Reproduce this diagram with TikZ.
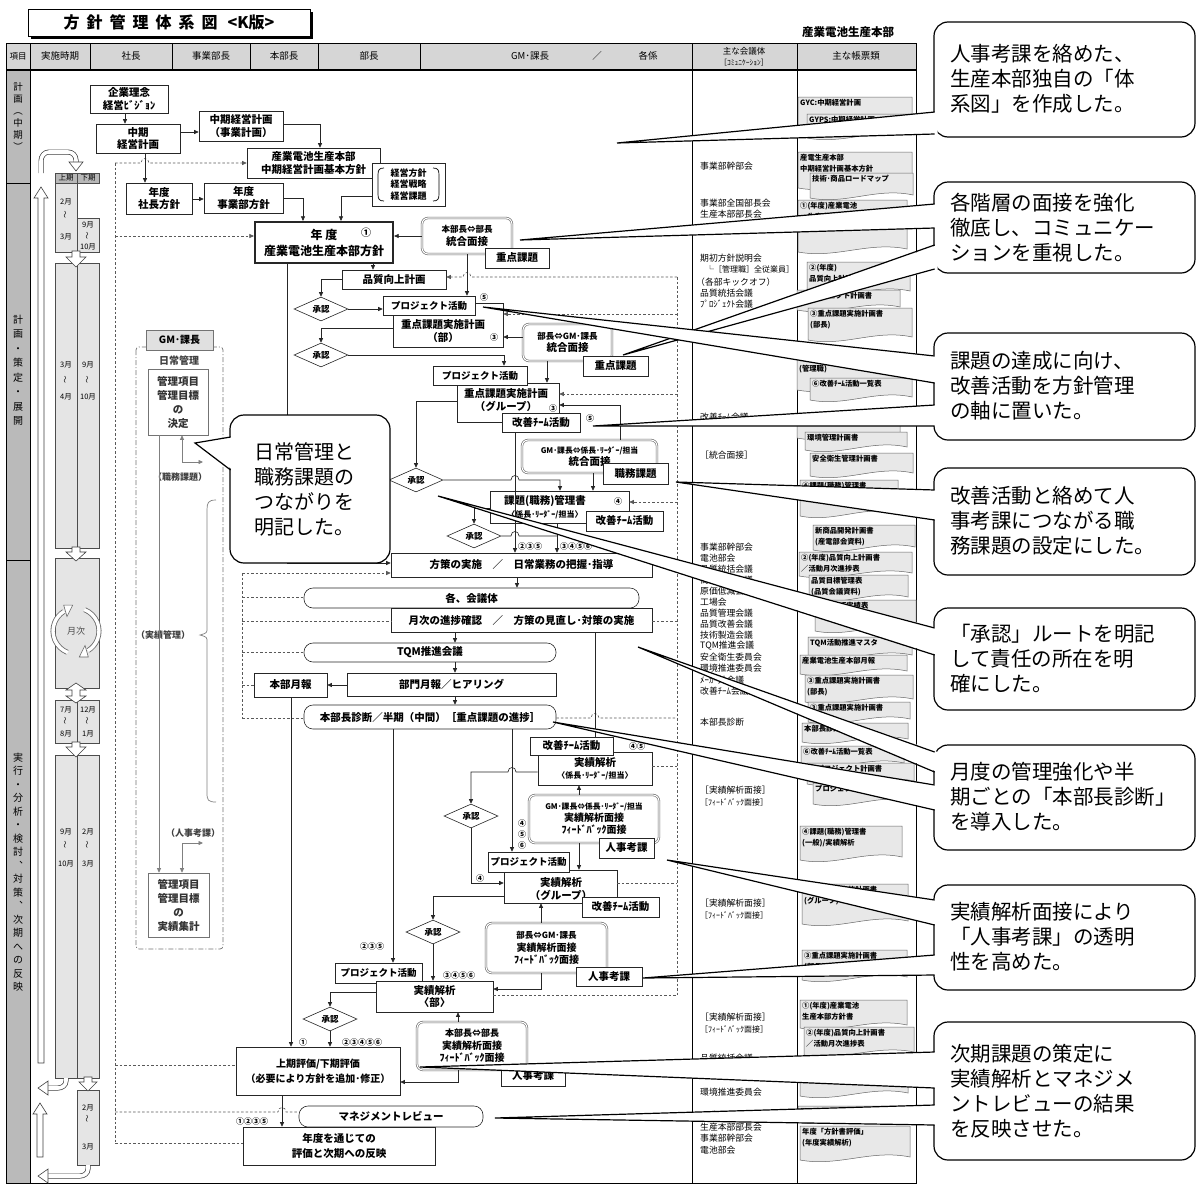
\documentclass[tikz,border=0pt]{standalone}
\usepackage{fontspec}
\setmainfont{Noto Sans CJK JP}
\usetikzlibrary{arrows.meta,shapes.geometric}
\newcommand\myfs[2]{\fontsize{#1}{#2}\selectfont}
\newcommand\zBX[7][]{\node[bx,#1,minimum width={(#5-#3)*1pt},minimum height={(#6-#4)*1pt}] (#2) at ({(#3+#5)/2},{(#4+#6)/2}) {#7};}
\newcommand\zDOC[5]{\filldraw[docsh] (#1,#2) -- (#3,#2) -- (#3,{#4-5}) .. controls ({#1+0.65*(#3-#1)},{#4-13}) and ({#1+0.35*(#3-#1)},{#4+5}) .. (#1,{#4-2}) -- cycle; \node[doctext,anchor=north west] at ({#1+2},{#2+2}) {#5};}
\newcommand\zMB[2]{\node[mtx] at (700,#1) {#2};}
\newcommand\zST[3]{\node[stx] at (#1,#2) {#3};}
\newcommand\zSW[2]{\node[stx,rotate=90] at (#1,#2) {～};}
\newcommand\zWG[4]{\fill[white] (#1,#2) -- (937.5,#3) -- (937.5,#4) -- cycle; \draw[wl] (934.6,#3) -- (#1,#2) -- (934.6,#4);}
\newcommand\zLB[3]{\node[lbl] at (#1,#2) {#3};}
\tikzset{
 bx/.style={draw=black!85,fill=white,line width=0.6pt,inner sep=1pt,align=center,font=\bfseries\myfs{10.5}{12.5}},
 rbx/.style={rounded corners=9pt},
 dbx/.style={draw=black!60,double=white,double distance=1.1pt,line width=0.6pt,rounded corners=6pt},
 pjx/.style={font=\bfseries\myfs{9.5}{11}},
 dia/.style={diamond,aspect=2,draw=black!85,fill=white,line width=0.6pt,inner sep=0pt,minimum width=54pt,minimum height=24pt,font=\bfseries\myfs{8.5}{9}},
 ln/.style={draw=black!85,line width=0.6pt},
 ar/.style={ln,-{Triangle[length=4.5pt,width=4pt]}},
 dsh/.style={draw=black!65,line width=0.6pt,dash pattern=on 2.5pt off 2pt},
 dar/.style={dsh,-{Triangle[length=4.5pt,width=4pt]}},
 gar/.style={draw=black!50,line width=0.7pt,-{Triangle[length=4.5pt,width=4pt]}},
 lbl/.style={inner sep=0pt,font=\bfseries\myfs{8}{9}},
 mtx/.style={anchor=west,inner sep=0pt,font=\myfs{8.8}{10}},
 stx/.style={inner sep=0pt,font=\myfs{7.5}{8}},
 docsh/.style={fill=black!9,draw=black!60,line width=0.5pt},
 doctext/.style={inner sep=0pt,align=left,font=\bfseries\myfs{7.3}{11}},
 cob/.style={draw=black,fill=white,line width=1.2pt,rounded corners=14pt},
 cot/.style={anchor=west,align=left,inner sep=0pt,font=\myfs{20.5}{25}},
 wl/.style={line width=1.2pt,line join=miter},
 hol/.style={draw=black!75,fill=white,line width=0.6pt},
 cel/.style={fill=black!10,draw=black!70,line width=0.5pt},
 hcel/.style={fill=black!28,draw=black!70,line width=0.5pt},
 hdr/.style={inner sep=0pt,font=\myfs{9.5}{11}},
}
\begin{document}
\begin{tikzpicture}[x=1pt,y=-1pt]
\useasboundingbox (0,0) rectangle (1198,1183);
\fill[white] (0,0) rectangle (1198,1183);
% ---------- title ----------
\fill[black] (31,12) rectangle (313,39);
\node[draw,fill=white,line width=0.8pt,minimum width=282pt,minimum height=27pt,inner sep=0pt,font=\bfseries\myfs{16}{18}] (title) at (169,22.5) {方\hspace{7pt}針\hspace{7pt}管\hspace{7pt}理\hspace{7pt}体\hspace{7pt}系\hspace{7pt}図\hspace{10pt}<K版>};
\node[font=\bfseries\myfs{11.5}{13},inner sep=0pt] (dept) at (848,32) {産業電池生産本部};
% ---------- table ----------
\fill[black!16] (6,43) rectangle (916,70);
\fill[black!27] (6,70) rectangle (30,1183);
\draw[line width=0.8pt] (6,43) rectangle (916,1183);
\draw[line width=1.2pt] (6,70) -- (916,70);
\foreach \xx in {30,90,172,250,318,420,692,797} \draw[line width=0.6pt] (\xx,43) -- (\xx,70);
\foreach \xx in {30,692,797} \draw[line width=0.6pt] (\xx,70) -- (\xx,1183);
\draw[line width=0.6pt] (6,183) -- (30,183);
\draw[line width=0.6pt] (6,560) -- (30,560);
\node[hdr,font=\myfs{8.5}{10}] (h0) at (18,56) {項目};
\node[hdr] (h1) at (60,56) {実施時期};
\node[hdr] (h2) at (131,56) {社長};
\node[hdr] (h3) at (211,56) {事業部長};
\node[hdr] (h4) at (284,56) {本部長};
\node[hdr] (h5) at (369,56) {部長};
\node[hdr] (h6) at (530,56) {GM･課長};
\node[hdr] (h7) at (597,56) {／};
\node[hdr] (h8) at (648,56) {各係};
\node[hdr,font=\myfs{8.5}{10}] (h9) at (744,51) {主な会議体};
\node[hdr,font=\myfs{7.5}{9}] (h10) at (744,63) {［ｺﾐｭﾆｹｰｼｮﾝ］};
\node[hdr] (h11) at (856,56) {主な帳票類};
\node[align=center,inner sep=0pt,font=\myfs{9.5}{12}] (v1) at (18,117) {計\\画\\︵\\中\\期\\︶};
\node[align=center,inner sep=0pt,font=\myfs{10}{14.5}] (v2) at (18,370) {計\\画\\・\\策\\定\\・\\展\\開};
\node[align=center,inner sep=0pt,font=\myfs{10}{13.5}] (v3) at (18,872) {実\\行\\・\\分\\析\\・\\検\\討\\︑\\対\\策\\︑\\次\\期\\へ\\の\\反\\映};
% ---------- period sub-table ----------
\filldraw[hcel] (55,173) rectangle (77,183);
\filldraw[hcel] (77,173) rectangle (99,183);
\zST{66}{178}{上期}\zST{88}{178}{下期}
\filldraw[cel] (55,183) rectangle (77,252);
\filldraw[cel] (77,218) rectangle (99,252);
\zST{66}{202}{2月}\zSW{66}{215}\zST{66}{237}{3月}
\zST{88}{225}{9月}\zSW{88}{236}\zST{88}{247}{10月}
\filldraw[cel] (55,263) rectangle (99,548);
\draw[black!70,line width=0.5pt] (77,263) -- (77,548);
\zST{66}{365}{3月}\zSW{66}{380}\zST{66}{397}{4月}
\zST{88}{365}{9月}\zSW{88}{380}\zST{88}{397}{10月}
\filldraw[hol] (72,251) -- (80,251) -- (80,257) -- (86,257) -- (76,267) -- (66,257) -- (72,257) -- cycle;
\filldraw[cel] (55,558) rectangle (99,688);
\filldraw[hol] (72,547) -- (80,547) -- (80,552) -- (86,552) -- (76,561) -- (66,552) -- (72,552) -- cycle;
\node[inner sep=0pt,font=\myfs{9}{10},text=black!70] (mj) at (76,631) {月次};
\draw[line width=5pt,black!60] (76,631) ++(248:23pt) arc[start angle=248,end angle=122,radius=23pt];
\draw[line width=3.4pt,white] (76,631) ++(249:23pt) arc[start angle=249,end angle=121,radius=23pt];
\filldraw[draw=black!60,fill=white,line width=0.6pt] (76,631) ++(122:17pt) -- ++(106:12pt) -- ++(0:9pt) -- cycle;
\draw[line width=5pt,black!60] (76,631) ++(68:23pt) arc[start angle=68,end angle=-58,radius=23pt];
\draw[line width=3.4pt,white] (76,631) ++(69:23pt) arc[start angle=69,end angle=-59,radius=23pt];
\filldraw[draw=black!60,fill=white,line width=0.6pt] (76,631) ++(-58:17pt) -- ++(-74:12pt) -- ++(180:9pt) -- cycle;
\filldraw[cel] (55,700) rectangle (99,743);
\draw[black!70,line width=0.5pt] (77,700) -- (77,743);
\filldraw[hol] (76,683) -- (86,690) -- (80,690) -- (80,696) -- (86,696) -- (76,703) -- (66,696) -- (72,696) -- (72,690) -- (66,690) -- cycle;
\zST{66}{710}{7月}\zSW{66}{721}\zST{66}{734}{8月}
\zST{88}{710}{12月}\zSW{88}{721}\zST{88}{734}{1月}
\filldraw[cel] (55,755) rectangle (99,1078);
\draw[black!70,line width=0.5pt] (77,755) -- (77,1078);
\filldraw[hol] (72,742) -- (80,742) -- (80,747) -- (86,747) -- (76,757) -- (66,747) -- (72,747) -- cycle;
\zST{66}{832}{9月}\zSW{66}{845}\zST{66}{864}{10月}
\zST{88}{832}{2月}\zSW{88}{845}\zST{88}{864}{3月}
\filldraw[cel] (77,1090) rectangle (99,1165);
\filldraw[hol] (84,1077) -- (92,1077) -- (92,1082) -- (97,1082) -- (88,1091) -- (79,1082) -- (84,1082) -- cycle;
\zST{88}{1108}{2月}\zSW{88}{1119}\zST{88}{1147}{3月}
% hollow hooks and long arrows
\draw[line width=5pt,black!75] (41,173) -- (41,161) to[out=90,in=180] (49,152) -- (68,152) to[out=0,in=90] (76,160) -- (76,163);
\draw[line width=3.6pt,white] (41,174) -- (41,161) to[out=90,in=180] (49,152) -- (68,152) to[out=0,in=90] (76,160) -- (76,164);
\filldraw[hol] (69,162) -- (83,162) -- (76,171) -- cycle;
\filldraw[hol] (38,1063) -- (44,1063) -- (44,198) -- (48,198) -- (41,187) -- (34,198) -- (38,198) -- cycle;
\draw[line width=5pt,black!75] (66,1079) -- (66,1081) to[out=-90,in=0] (58,1088) -- (48,1088);
\draw[line width=3.6pt,white] (66,1078) -- (66,1081) to[out=-90,in=0] (58,1088) -- (47,1088);
\filldraw[hol] (48,1081) -- (48,1095) -- (38,1088) -- cycle;
\draw[line width=5pt,black!75] (88,1166) -- (88,1169) to[out=-90,in=0] (80,1176) -- (48,1176);
\draw[line width=3.6pt,white] (88,1165) -- (88,1169) to[out=-90,in=0] (80,1176) -- (47,1176);
\filldraw[hol] (48,1169) -- (48,1183) -- (38,1176) -- cycle;
\filldraw[hol] (37,1157) -- (43,1157) -- (43,1114) -- (47,1114) -- (40,1103) -- (33,1114) -- (37,1114) -- cycle;
% ---------- GM group ----------
\draw[black!55,line width=0.7pt,dash pattern=on 5pt off 2pt on 1pt off 2pt,rounded corners=3pt] (136,347) rectangle (223,949);
\zBX[fill=black!12,draw=black!55,font=\bfseries\myfs{10}{12}]{gmk}{146}{330}{213}{350}{GM･課長}
\node[inner sep=0pt,font=\bfseries\myfs{10}{12},text=black!75] (nj) at (179,361) {日常管理};
\zBX[draw=black!55,text=black!80,font=\bfseries\myfs{10.5}{14}]{kd}{148}{369}{208}{435}{管理項目\\管理目標\\の\\決定}
\zBX[draw=black!55,text=black!80,font=\bfseries\myfs{10.5}{14}]{jsk}{148}{873}{209}{937}{管理項目\\管理目標\\の\\実績集計}
\node[inner sep=0pt,font=\bfseries\myfs{9}{10},text=black!75] (smk) at (180,477) {（職務課題）};
\node[inner sep=0pt,font=\bfseries\myfs{9}{10},text=black!75] (jkk) at (163,635) {（実績管理）};
\node[inner sep=0pt,font=\bfseries\myfs{9}{10},text=black!75] (jjk) at (193,833) {（人事考課）};
\draw[gar] (kd.south -| 159,0) -- (jsk.north -| 159,0);
\draw[gar,{Triangle[length=4.5pt,width=4pt]}-{Triangle[length=4.5pt,width=4pt]}] (kd.south -| 182,0) |- (203,462);
\draw[gar,{Triangle[length=4.5pt,width=4pt]}-{Triangle[length=4.5pt,width=4pt]}] (jsk.north -| 182,0) |- (203,843);
\draw[black!50,line width=0.7pt] (216,500) .. controls (208,500) and (207,503) .. (207,510) -- (207,628) .. controls (207,633) .. (200,635) .. controls (207,637) .. (207,642) -- (207,793) .. controls (207,800) and (208,802) .. (216,802);
% ---------- flow nodes ----------
\zBX{kr}{90}{85}{168}{113}{企業理念\\経営ﾋﾞｼﾞｮﾝ}
\zBX{ck}{96}{124}{180}{153}{中期\\経営計画}
\zBX{jg}{199}{111}{283}{141}{中期経営計画\\（事業計画）}
\zBX{sk}{247}{148}{380}{178}{産業電池生産本部\\中期経営計画基本方針}
\zBX[font=\bfseries\myfs{9}{11.5}]{kh}{372}{163}{445}{206}{経営方針\\経営戦略\\経営課題}
\draw[line width=0.7pt] (384,168) .. controls (379,168) and (378,170) .. (378,175) -- (378,194) .. controls (378,199) and (379,201) .. (384,201);
\draw[line width=0.7pt] (433,168) .. controls (438,168) and (439,170) .. (439,175) -- (439,194) .. controls (439,199) and (438,201) .. (433,201);
\zBX{ss}{126}{183}{192}{214}{年度\\社長方針}
\zBX{jb}{204}{183}{283}{213}{年度\\事業部方針}
\zBX[line width=2.2pt,font=\bfseries\myfs{12}{16}]{nd}{255}{222}{393}{263}{年 度\\産業電池生産本部方針}
\node[inner sep=0pt,font=\bfseries\myfs{10}{10}] (n1) at (366,233) {①};
\zBX[dbx]{hb}{422}{218}{512}{254}{{\myfs{8.5}{10}本部長⇔部長}\\統合面接}
\zBX{jk1}{485}{248}{549}{268}{重点課題}
\zBX{hq}{342}{270}{446}{289}{品質向上計画}
\node[dia] (a1) at (321,309) {承認};
\zBX{jbb}{393}{303}{503}{347}{}
\node[bx,draw=none,fill=none] (jbbt) at (443,331) {重点課題実施計画\\（部）};
\zBX[pjx]{pj1}{383}{296}{475}{315}{プロジェクト活動}
\zLB{484}{297}{⑤}
\zLB{494}{337}{③}
\zBX[dbx]{bg}{523}{324}{612}{361}{{\myfs{8.5}{10}部長⇔GM･課長}\\統合面接}
\zBX{jk2}{583}{356}{648}{376}{重点課題}
\node[dia] (a2) at (321,355) {承認};
\zBX{jgr}{457}{383}{559}{422}{}
\node[bx,draw=none,fill=none] (jgrt) at (506,400) {重点課題実施計画\\（グループ）};
\zBX[pjx]{pj2}{433}{366}{527}{385}{プロジェクト活動}
\zLB{553}{408}{③}
\zBX{kt1}{502}{413}{580}{432}{改善ﾁｰﾑ活動}
\zLB{590}{418}{⑤}
\zBX[dbx]{gk}{522}{440}{657}{473}{{\myfs{7.8}{9.5}GM･課長⇔係長･ﾘｰﾀﾞｰ/担当}\\統合面接}
\zBX{sm}{603}{463}{668}{484}{職務課題}
\node[dia] (a3) at (416,480) {承認};
\zBX{kk}{490}{491}{629}{523}{}
\node[bx,draw=none,fill=none] (kkt) at (545,507) {課題(職務)管理書\\{\myfs{8}{10}〈係長･ﾘｰﾀﾞｰ/担当〉}};
\zLB{618}{501}{④}
\zBX{kt2}{586}{511}{663}{531}{改善ﾁｰﾑ活動}
\node[dia] (a4) at (474,536) {承認};
\zBX{hs}{391}{553}{652}{577}{方策の実施　／　日常業務の把握･指導}
\zLB{530}{546}{②③⑤}
\zLB{576}{546}{③④⑤⑥}
\zBX[rbx]{kg}{304}{588}{639}{608}{各、会議体}
\zBX{gs}{391}{608}{652}{632}{月次の進捗確認　／　方策の見直し･対策の実施}
\zBX[rbx]{tqm}{304}{643}{556}{662}{TQM推進会議}
\zBX{bm}{347}{673}{556}{696}{部門月報／ヒアリング}
\zBX{hg}{254}{673}{327}{697}{本部月報}
\zBX[rbx]{hd}{304}{705}{556}{729}{本部長診断／半期（中間）［重点課題の進捗］}
\zBX{jk}{538}{752}{652}{785}{実績解析\\{\myfs{8}{10}〈係長･ﾘｰﾀﾞｰ/担当〉}}
\zBX{kt3}{530}{737}{613}{755}{改善ﾁｰﾑ活動}
\zLB{637}{746}{④⑤}
\node[dia] (a5) at (471,816) {承認};
\zBX[dbx,font=\bfseries\myfs{10}{12}]{gj}{529}{795}{659}{843}{{\myfs{7.8}{9.5}GM･課長⇔係長･ﾘｰﾀﾞｰ/担当}\\実績解析面接\\ﾌｨｰﾄﾞﾊﾞｯｸ面接}
\zLB{522}{823}{④}\zLB{522}{834}{⑤}\zLB{522}{845}{⑥}
\zBX{jj1}{599}{838}{654}{858}{人事考課}
\zBX{jgp}{504}{870}{617}{903}{}
\node[bx,draw=none,fill=none] (jgpt) at (561,889) {実績解析\\（グループ）};
\zBX[pjx]{pj3}{488}{852}{569}{872}{プロジェクト活動}
\zBX{kt4}{582}{897}{659}{917}{改善ﾁｰﾑ活動}
\zLB{480}{878}{④}
\node[dia] (a6) at (433,932) {承認};
\zBX[dbx,font=\bfseries\myfs{10}{12.5}]{bgj}{486}{923}{607}{973}{{\myfs{8.5}{10}部長⇔GM･課長}\\実績解析面接\\ﾌｨｰﾄﾞﾊﾞｯｸ面接}
\zBX{jj2}{576}{967}{642}{986}{人事考課}
\zBX[pjx]{pj4}{335}{963}{422}{983}{プロジェクト活動}
\zLB{372}{946}{②③⑤}
\zBX{jb2}{376}{981}{493}{1012}{実績解析\\〈部〉}
\zLB{459}{975}{③④⑤⑥}
\node[dia] (a7) at (330,1019) {承認};
\zBX[dbx,font=\bfseries\myfs{10}{12.5}]{hbj}{417}{1022}{527}{1070}{{\myfs{9}{10}本部長⇔部長}\\実績解析面接\\ﾌｨｰﾄﾞﾊﾞｯｸ面接}
\zBX{jj3}{501}{1066}{565}{1086}{人事考課}
\zBX[font=\bfseries\myfs{10}{15}]{jh}{236}{1047}{400}{1095}{上期評価/下期評価\\（必要により方針を追加･修正）}
\zLB{303}{1042}{①}
\zLB{362}{1042}{②③④⑤⑥}
\zBX[rbx]{mr}{299}{1106}{483}{1127}{マネジメントレビュー}
\zBX[font=\bfseries\myfs{10.5}{15}]{nt}{243}{1127}{435}{1165}{年度を通じての\\評価と次期への反映}
\zLB{252}{1121}{①②③⑤}
% ---------- dashed connectors ----------
\draw[dar] (115,163) -- (141,163) .. controls (141,157) and (149,157) .. (149,163) -- (sk.west);
\draw[dsh] (115,163) -- (115,1143);
\draw[dar] (115,236) -- (nd.west |- 0,236);
\draw[dsh] (115,1065) -- (jh.west |- 0,1065);
\draw[dsh] (115,1112) -- (278,1112) .. controls (278,1106) and (286,1106) .. (286,1112) -- (mr.west |- 0,1112);
\draw[dsh] (115,1143) -- (nt.west |- 0,1143);
\draw[dsh] (677,277) -- (677,995);
\draw[dar] (677,277) -- (471,277) .. controls (471,271) and (463,271) .. (463,277) -- (hq.east |- 0,277);
\draw[dar] (677,314) -- (jbb.east |- 0,314);
\draw[dar] (677,394) -- (jgr.east |- 0,394);
\draw[dar] (677,502) -- (kk.east |- 0,502);
\draw[dsh] (gs.east |- 0,621) -- (677,621);
\draw[dsh] (hd.east |- 0,718) -- (591,718) .. controls (591,712) and (599,712) .. (599,718) -- (677,718);
\draw[dsh] (jk.east |- 0,766) -- (677,766);
\draw[dsh] (jgp.east |- 0,883) -- (677,883);
\draw[dsh] (jb2.east |- 0,995) -- (677,995);
\draw[dsh] (242,573) -- (242,718);
\draw[dar] (242,573) -- (hs.west |- 0,573);
\draw[dsh] (242,597) -- (kg.west |- 0,597);
\draw[dsh] (242,621) -- (gs.west |- 0,621);
\draw[dsh] (242,652) -- (tqm.west |- 0,652);
\draw[dsh] (242,685) -- (hg.west |- 0,685);
\draw[dsh] (242,718) -- (hd.west |- 0,718);
% ---------- solid connectors ----------
\draw[ar] (kr.south -| 125,0) -- (ck.north -| 125,0);
\draw[ar] (ck.east |- 0,132) -- (jg.west |- 0,132);
\draw[ar] (jg.east |- 0,124) -| (sk.north -| 320,0);
\draw[ar] (ck.south -| 145,0) -- (ss.north -| 145,0);
\draw[ar] (ss.east |- 0,199) -- (jb.west |- 0,199);
\draw[ar] (jb.east |- 0,198) -| (nd.north -| 303,0);
\draw[ar] (kh.west |- 0,196) -| (nd.north -| 341,0);
\draw[ar] (hb.west |- 0,236) -- (nd.east |- 0,236);
\draw[ar] (nd.south -| 373,0) -- (hq.north -| 373,0);
\draw[ar] (nd.south -| 287,0) |- (hs.west |- 0,563);
\draw[ar] (hq.west |- 0,279) -| (a1.north);
\draw[ar] (a1.east) -- (pj1.west |- a1.east);
\draw[ar] (hb.south -| 467,0) -- (pj1.north -| 467,0);
\draw[ar] (bg.west |- 0,337) -- (jbb.east |- 0,337);
\draw[ar] (jbb.west |- 0,328) -| (a2.north);
\draw[ar] (a2.east) -| (pj2.north -| 504,0);
\draw[ar] (bg.south -| 547,0) -- (jgr.north -| 547,0);
\draw[ar] (gk.north -| 620,0) |- (jgr.east |- 0,405);
\draw[ar] (jgr.west |- 0,401) -| (a3.north);
\draw[ar] (a3.east) -- (511,480) .. controls (511,474) and (519,474) .. (519,480) -| (kk.north -| 560,0);
\draw[ar] (kt1.south -| 515,0) -- (hs.north -| 515,0);
\draw[ar] (gk.south -| 593,0) -- (kk.north -| 593,0);
\draw[ar] (kk.west |- 0,508) -| (a4.north);
\draw[ln] (a4.east) -- (511,536) .. controls (511,530) and (519,530) .. (519,536) -- (557,536);
\draw[ar] (kk.south -| 557,0) -- (hs.north -| 557,0);
\draw[ar] (hs.south -| 517,0) -- (kg.north -| 517,0);
\draw[ar] (gs.south -| 455,0) -- (tqm.north -| 455,0);
\draw[ln] (gs.south -| 595,0) -- (kt3.north -| 595,0);
\draw[ar] (tqm.south -| 455,0) -- (bm.north -| 455,0);
\draw[ar] (bm.west |- 0,685) -- (hg.east |- 0,685);
\draw[ar] (bm.south -| 455,0) -- (hd.north -| 455,0);
\draw[ar] (hg.south -| 291,0) -- (jh.north -| 291,0);
\draw[ar] (hd.south -| 393,0) -- (pj4.north -| 393,0);
\draw[ar] (hd.south -| 512,0) -- (pj3.north -| 512,0);
\draw[ar] (jk.west |- 0,772) -- (516,772) .. controls (516,766) and (508,766) .. (508,772) -| (a5.north);
\draw[ar] (gj.north -| 579,0) -- (jk.south -| 579,0);
\draw[ar] (a5.south) |- (jgp.west |- 0,883);
\draw[ar] (gj.south -| 579,0) -- (jgp.north -| 579,0);
\draw[ar] (jgp.west |- 0,896) -| (a6.north);
\draw[ar] (a6.south) -- (jb2.north -| a6.south);
\draw[ar] (bgj.north -| 541,0) -- (jgp.south -| 541,0);
\draw[ar] (bgj.south -| 541,0) |- (jb2.east |- 0,989);
\draw[ar] (jb2.west |- 0,992) -| (a7.north);
\draw[ar] (a7.south) -- (jh.north -| a7.south);
\draw[ar] (hbj.north -| 458,0) -- (jb2.south -| 458,0);
\draw[ar] (hbj.south -| 458,0) |- (jh.east |- 0,1082);
\draw[ar] (jh.south -| 282,0) -- (nt.north -| 282,0);
% ---------- meeting bodies ----------
\zMB{166}{事業部幹部会}
\zMB{203}{事業部全国部長会}
\zMB{214}{生産本部部長会}
\zMB{258}{期初方針説明会}
\node[mtx,font=\myfs{8}{9}] at (706,269) {└［管理職］全従業員］};
\node[mtx] at (696,282) {（各部キックオフ）};
\zMB{293}{品質統括会議}
\zMB{304}{ﾌﾟﾛｼﾞｪｸﾄ会議}
\zMB{417}{改善ﾁｰﾑ会議}
\zMB{455}{［統合面接］}
\zMB{547}{事業部幹部会}
\zMB{558}{電池部会}
\zMB{569}{品質統括会議}
\zMB{580}{商品企画会議}
\zMB{591}{原価低減会議}
\zMB{602}{工場会}
\zMB{613}{品質管理会議}
\zMB{624}{品質改善会議}
\zMB{635}{技術製造会議}
\zMB{646}{TQM推進会議}
\zMB{657}{安全衛生委員会}
\zMB{668}{環境推進委員会}
\zMB{680}{ﾒｰｶｰ外会議}
\zMB{691}{改善ﾁｰﾑ会議}
\zMB{722}{本部長診断}
\zMB{790}{［実績解析面接］}
\node[mtx,font=\myfs{8}{9}] at (700,802) {［ﾌｨｰﾄﾞﾊﾞｯｸ面接］};
\zMB{903}{［実績解析面接］}
\node[mtx,font=\myfs{8}{9}] at (700,915) {［ﾌｨｰﾄﾞﾊﾞｯｸ面接］};
\zMB{1017}{［実績解析面接］}
\node[mtx,font=\myfs{8}{9}] at (700,1029) {［ﾌｨｰﾄﾞﾊﾞｯｸ面接］};
\zMB{1058}{品質統括会議}
\zMB{1092}{環境推進委員会}
\zMB{1115}{ﾏﾈｼﾞﾒﾝﾄﾚﾋﾞｭｰ}
\zMB{1127}{生産本部部長会}
\zMB{1138}{事業部幹部会}
\zMB{1150}{電池部会}
% ---------- documents ----------
\zDOC{798}{97}{912}{128}{GYC:中期経営計画}
\zDOC{807}{114}{914}{140}{GYPS:中期経営計画}
\zDOC{798}{152}{912}{190}{産電生産本部\\中期経営計画基本方針}
\zDOC{810}{173}{913}{200}{技術･商品ロードマップ}
\zDOC{798}{200}{907}{254}{①(年度)産業電池\\　生産本部方針書\\　(各部)}
\zDOC{807}{262}{910}{296}{②(年度)\\品質向上計画書}
\zDOC{797}{290}{900}{312}{⑤プロジェクト計画書}
\zDOC{808}{308}{912}{342}{③重点課題実施計画書\\(部長)}
\zDOC{797}{352}{905}{392}{③重点課題実施計画書\\(管理職)}
\zDOC{810}{378}{912}{402}{⑥改善ﾁｰﾑ活動一覧表}
\zDOC{797}{418}{900}{440}{}
\zDOC{805}{432}{907}{452}{環境管理計画書}
\zDOC{810}{453}{913}{478}{安全衛生管理計画書}
\zDOC{800}{480}{898}{518}{④課題(職務)管理書}
\zDOC{813}{525}{915}{552}{新商品開発計画書\\(産電部会資料)}
\zDOC{799}{552}{912}{578}{②(年度)品質向上計画書\\／活動月次進捗表}
\zDOC{809}{575}{908}{602}{品質目標管理表\\(品質会議資料)}
\zDOC{815}{600}{916}{633}{品質保証実績表}
\zDOC{808}{637}{912}{660}{TQM活動推進マスタ}
\zDOC{800}{655}{907}{676}{産業電池生産本部月報}
\zDOC{805}{675}{913}{704}{③重点課題実施計画書\\(部長)}
\zDOC{808}{702}{910}{724}{③重点課題実施計画書}
\zDOC{802}{723}{908}{744}{本部長診断記録}
\zDOC{801}{746}{904}{768}{⑥改善ﾁｰﾑ活動一覧表}
\zDOC{807}{763}{914}{786}{⑤プロジェクト計画書}
\zDOC{813}{783}{914}{806}{プロジェクト報告書}
\zDOC{800}{826}{902}{862}{④課題(職務)管理書\\(一般)/実績解析}
\zDOC{802}{884}{908}{926}{③重点課題実施計画書\\(グループ)}
\zDOC{802}{950}{907}{982}{③重点課題実施計画書\\(部長)}
\zDOC{800}{1000}{907}{1030}{①(年度)産業電池\\生産本部方針書}
\zDOC{804}{1027}{914}{1057}{②(年度)品質向上計画書\\／活動月次進捗表}
\zDOC{800}{1057}{908}{1098}{環境管理計画書}
\zDOC{798}{1106}{904}{1124}{需要者の目的と詳細}
\zDOC{800}{1126}{910}{1162}{年度「方針書評価」\\(年度実績解析)}
% ---------- callouts ----------
\draw[cob] (230,415) rectangle (390,563);
\fill[white] (195,443) -- (233,437) -- (233,470) -- cycle;
\draw[wl] (230.6,437) -- (195,443) -- (230.6,470);
\node[cot,font=\myfs{20}{25}] (c0) at (254,489) {日常管理と\\職務課題の\\つながりを\\明記した。};
\draw[cob] (934,22) rectangle (1195,137);
\draw[cob] (934,182) rectangle (1195,273);
\draw[cob] (934,333) rectangle (1195,440);
\draw[cob] (934,468) rectangle (1195,575);
\draw[cob] (934,608) rectangle (1195,710);
\draw[cob] (934,745) rectangle (1195,850);
\draw[cob] (934,885) rectangle (1195,990);
\draw[cob] (934,1022) rectangle (1195,1160);
\zWG{617}{143}{112}{134}
\zWG{520}{240}{204}{228}
\zWG{623}{355}{245}{269}
\zWG{483}{307}{356}{383}
\zWG{593}{426}{405}{426}
\zWG{676}{482}{490}{520}
\zWG{438}{496}{628}{655}
\zWG{638}{647}{752}{772}
\zWG{553}{722}{785}{810}
\zWG{667}{860}{900}{925}
\zWG{643}{978}{955}{975}
\zWG{420}{1067}{1052}{1088}
\zWG{495}{1118}{1105}{1125}
\node[cot] (t1) at (950,79) {人事考課を絡めた、\\生産本部独自の「体\\系図」を作成した。};
\node[cot] (t2) at (950,228) {各階層の面接を強化\\徹底し、コミュニケー\\ションを重視した。};
\node[cot] (t3) at (950,386) {課題の達成に向け、\\改善活動を方針管理\\の軸に置いた。};
\node[cot] (t4) at (950,521) {改善活動と絡めて人\\事考課につながる職\\務課題の設定にした。};
\node[cot] (t5) at (950,659) {「承認」ルートを明記\\して責任の所在を明\\確にした。};
\node[cot] (t6) at (950,797) {月度の管理強化や半\\期ごとの「本部長診断」\\を導入した。};
\node[cot] (t7) at (950,937) {実績解析面接により\\「人事考課」の透明\\性を高めた。};
\node[cot] (t8) at (950,1091) {次期課題の策定に\\実績解析とマネジメ\\ントレビューの結果\\を反映させた。};
\end{tikzpicture}
\end{document}
